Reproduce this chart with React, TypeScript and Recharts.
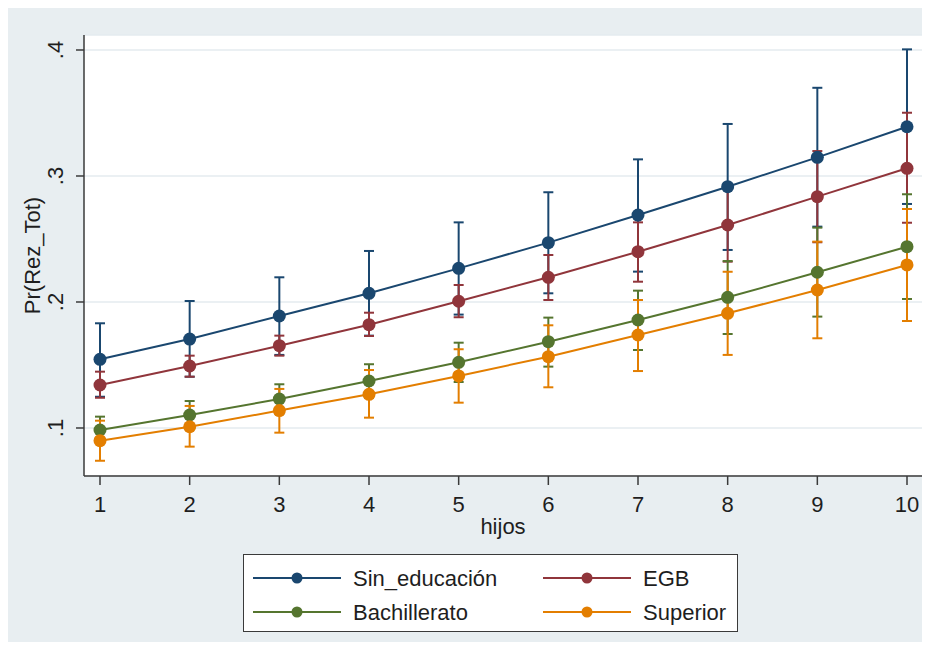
import React from 'react';
import { ComposedChart, Line, XAxis, YAxis, CartesianGrid, ErrorBar } from 'recharts';

const hijos = [1, 2, 3, 4, 5, 6, 7, 8, 9, 10];
const yTicks = [0.1, 0.2, 0.3, 0.4];

const sinEducacion = [0.1545, 0.1706, 0.1889, 0.2069, 0.2267, 0.2471, 0.269, 0.2915, 0.3148, 0.3391];
const sinEducacionLo = [0.1248, 0.1407, 0.158, 0.1733, 0.19, 0.2069, 0.2241, 0.2413, 0.2598, 0.2778];
const sinEducacionHi = [0.1831, 0.2008, 0.2196, 0.2405, 0.2632, 0.2871, 0.3132, 0.3413, 0.37, 0.4005];

const egb = [0.1341, 0.1492, 0.1653, 0.182, 0.2006, 0.2196, 0.2399, 0.2611, 0.2836, 0.3061];
const egbLo = [0.124, 0.1407, 0.1574, 0.173, 0.1879, 0.2016, 0.2161, 0.232, 0.2474, 0.2629];
const egbHi = [0.1447, 0.1574, 0.1733, 0.1915, 0.2135, 0.2373, 0.2632, 0.29, 0.3198, 0.3502];

const bachillerato = [0.0984, 0.1103, 0.123, 0.1373, 0.1521, 0.1685, 0.1857, 0.2037, 0.2236, 0.2439];
const bachilleratoLo = [0.088, 0.099, 0.1113, 0.124, 0.1365, 0.1487, 0.1619, 0.1746, 0.1884, 0.2024];
const bachilleratoHi = [0.109, 0.1214, 0.1347, 0.1506, 0.1677, 0.1876, 0.209, 0.2325, 0.259, 0.2855];

const superior = [0.0899, 0.101, 0.1138, 0.1267, 0.1413, 0.1566, 0.1738, 0.191, 0.2095, 0.2294];
const superiorLo = [0.074, 0.0852, 0.0963, 0.1082, 0.1201, 0.1323, 0.1452, 0.158, 0.1712, 0.1849];
const superiorHi = [0.1058, 0.1175, 0.131, 0.146, 0.1625, 0.1815, 0.2016, 0.224, 0.2479, 0.2738];

const series = [
  { key: 'sin', name: 'Sin_educación', color: '#1a476f', v: sinEducacion, lo: sinEducacionLo, hi: sinEducacionHi },
  { key: 'egb', name: 'EGB', color: '#90353b', v: egb, lo: egbLo, hi: egbHi },
  { key: 'bach', name: 'Bachillerato', color: '#55752f', v: bachillerato, lo: bachilleratoLo, hi: bachilleratoHi },
  { key: 'sup', name: 'Superior', color: '#e37e00', v: superior, lo: superiorLo, hi: superiorHi },
];

const data = hijos.map((h, i) => {
  const row: any = { hijos: h };
  series.forEach((s) => {
    row[s.key] = s.v[i];
    row[s.key + 'Err'] = [s.v[i] - s.lo[i], s.hi[i] - s.v[i]];
  });
  return row;
});

const FONT = '"Liberation Sans", Arial, Helvetica, sans-serif';
const TEXT = '#1e1e1e';
const AXIS = '#3a3a3a';

const fmt = (v: number) => v.toFixed(1).replace(/^0/, '');

const YTick = (props: any) => {
  const { y, payload } = props;
  const bx = 55;
  return (
    <text x={bx} y={y} transform={`rotate(-90 ${bx} ${y})`} textAnchor="middle" fontSize={22} fontFamily={FONT} fill={TEXT}>
      {fmt(payload.value)}
    </text>
  );
};

const YLabel = (props: any) => {
  const vb = props.viewBox || { y: 27, height: 441 };
  const cy = vb.y + vb.height / 2;
  const bx = 32;
  return (
    <text x={bx} y={cy} transform={`rotate(-90 ${bx} ${cy})`} textAnchor="middle" fontSize={22} fontFamily={FONT} fill={TEXT}>
      Pr(Rez_Tot)
    </text>
  );
};

const XLabel = (props: any) => {
  const vb = props.viewBox || { x: 76, y: 468, width: 838 };
  return (
    <text x={vb.x + vb.width / 2} y={vb.y + 58} textAnchor="middle" fontSize={22} fontFamily={FONT} fill={TEXT}>
      hijos
    </text>
  );
};

const LegendBox = () => {
  const cols = [10, 300];
  const rows = [24, 58];
  return (
    <div
      style={{
        position: 'absolute',
        left: 235,
        top: 546,
        width: 495,
        height: 78,
        background: '#ffffff',
        border: '1.5px solid #3a3a3a',
        boxSizing: 'border-box',
      }}
    >
      <svg width={492} height={75} style={{ position: 'absolute', left: -1.5, top: -1.5, overflow: 'visible' }}>
        {series.map((s, i) => {
          const x0 = cols[i % 2];
          const y0 = rows[Math.floor(i / 2)];
          return (
            <g key={s.key}>
              <line x1={x0} x2={x0 + 88} y1={y0} y2={y0} stroke={s.color} strokeWidth={2} />
              <circle cx={x0 + 44} cy={y0} r={5.5} fill={s.color} />
              <text x={x0 + 100} y={y0 + 8} fontSize={22} fontFamily={FONT} fill={TEXT}>
                {s.name}
              </text>
            </g>
          );
        })}
      </svg>
    </div>
  );
};

export default function App() {
  return (
    <div style={{ position: 'relative', width: 918, height: 634, background: '#e8eef1' }}>
      <ComposedChart width={918} height={634} data={data} margin={{ top: 27, right: 4, left: 0, bottom: 136 }}>
        <CartesianGrid horizontal vertical={false} fill="#ffffff" stroke="#e4ebef" strokeWidth={1.5} />
        <XAxis
          dataKey="hijos"
          type="number"
          domain={[1, 10]}
          ticks={hijos}
          interval={0}
          padding={{ left: 16, right: 15 }}
          height={30}
          tickSize={9}
          tickMargin={11}
          axisLine={{ stroke: AXIS, strokeWidth: 1.5 }}
          tickLine={{ stroke: AXIS, strokeWidth: 1.5 }}
          tick={{ fill: TEXT, fontSize: 22, fontFamily: FONT }}
          label={<XLabel />}
        />
        <YAxis
          type="number"
          domain={[0.0619, 0.4119]}
          ticks={yTicks}
          allowDataOverflow
          width={76}
          tickSize={8}
          axisLine={{ stroke: AXIS, strokeWidth: 1.5 }}
          tickLine={{ stroke: AXIS, strokeWidth: 1.5 }}
          tick={<YTick />}
          label={<YLabel />}
        />
        {series.map((s) => (
          <Line
            key={s.key}
            type="linear"
            dataKey={s.key}
            name={s.name}
            stroke={s.color}
            strokeWidth={2}
            dot={{ r: 6.5, fill: s.color, stroke: s.color, strokeWidth: 0 }}
            activeDot={false}
            isAnimationActive={false}
          >
            <ErrorBar dataKey={s.key + 'Err'} direction="y" width={5} stroke={s.color} strokeWidth={2} isAnimationActive={false} />
          </Line>
        ))}
      </ComposedChart>
      <LegendBox />
    </div>
  );
}
